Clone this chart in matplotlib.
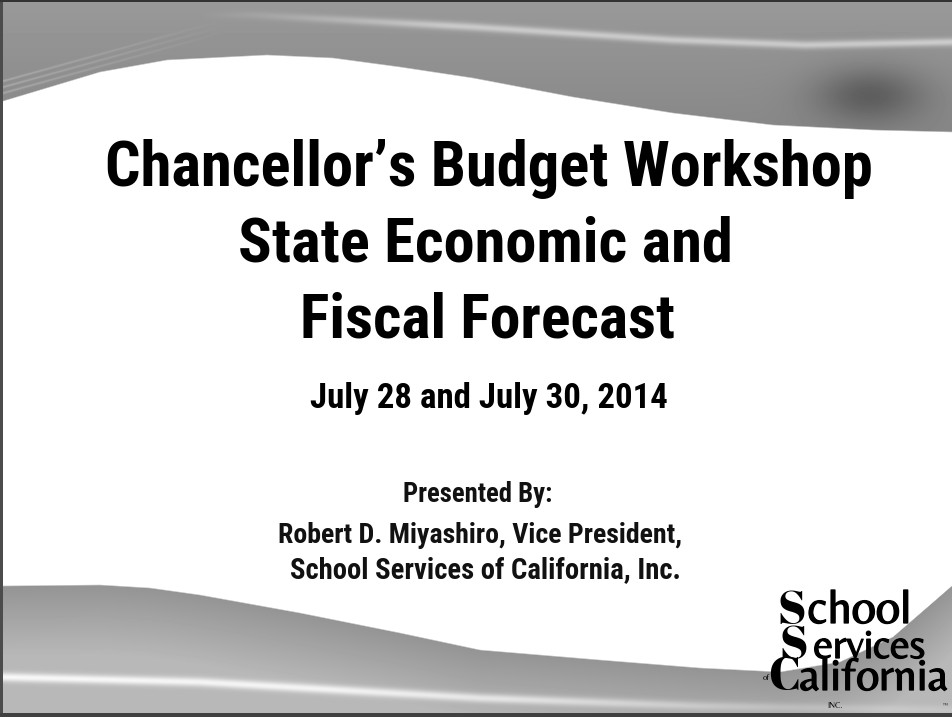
import numpy as np
import matplotlib
matplotlib.use('Agg')
import matplotlib.pyplot as plt
import matplotlib.patheffects as pe
from matplotlib import font_manager

W, H = 953, 717

# slide texts
title_lines = ['Chancellor\u2019s Budget Workshop', 'State Economic and', 'Fiscal Forecast']
date_line = 'July 28 and July 30, 2014'
presenter_lines = ['Presented By:', 'Robert D. Miyashiro, Vice President,',
                   'School Services of California, Inc.']
logo_caps = ['S', 'S', 'C']
logo_rest = ['chool', 'ervices', 'alifornia']
logo_small = ['of', 'INC.', '\u2122']

# (left, right, baseline) in pixels for each text line
title_boxes = [(105, 873, 186), (238, 732, 262), (300, 675, 338)]
date_box = (310, 668, 408)
presenter_boxes = [(403, 552, 502), (278, 682, 543), (290, 680, 578)]


def pick_family(names):
    have = {f.name for f in font_manager.fontManager.ttflist}
    for n in names:
        if n in have:
            return n
    return 'DejaVu Sans'


narrow = pick_family(['Liberation Sans Narrow', 'Roboto Condensed', 'Arimo Narrow',
                      'Fira Sans Condensed', 'Barlow Semi Condensed', 'Liberation Sans'])
logo_font = pick_family(['Belleza', 'Liberation Sans'])
swash = pick_family(['Abril Fatface', 'Liberation Serif'])


def background():
    yy, xx = np.mgrid[0:H, 0:W] + 0.5
    x = xx[0]

    # top swoosh
    top_edge = np.interp(x, [0, 50, 100, 167, 267, 333, 400, 473, 573, 673, 773, 873, 953],
                         [102, 87, 72, 60, 55, 58, 67, 78, 97, 113, 125, 130, 132])
    top_mask = np.clip((top_edge[None, :] - yy) / 1.5 + 0.5, 0, 1)
    g_top = 0.6 - 0.07 * yy / 130.0
    s_y = np.interp(x, [250, 473, 673, 806, 953], [15, 27, 40, 45, 42])
    s_amp = np.interp(x, [200, 450, 953], [0.0, 0.2, 0.22])
    g_top = g_top + s_amp[None, :] * np.exp(-((yy - s_y[None, :]) / 4.0) ** 2)
    g_top -= 0.18 * np.exp(-((xx - 870) / 55.0) ** 2 - ((yy - 95) / 28.0) ** 2)
    for k in range(3):
        ly = 82 - xx * 47 / 170.0 + k * 6
        fade = np.clip(1 - xx / 220.0, 0, 1)
        g_top += 0.1 * fade * np.exp(-((yy - ly) / 1.2) ** 2)

    # bottom swoosh
    bot_edge = np.interp(x, [0, 100, 150, 200, 300, 400, 480, 600, 700, 780, 840, 893, 930, 953],
                         [586, 585, 588, 595, 613, 633, 650, 660, 668, 672, 662, 637, 605, 585])
    bot_mask = np.clip((yy - bot_edge[None, :]) / 1.5 + 0.5, 0, 1)
    g_bot = 0.58 + 0.14 * np.clip((yy - bot_edge[None, :]) / 70.0, 0, 1)
    b_y = np.interp(x, [0, 200, 480, 700, 953], [677, 682, 698, 706, 710])
    b_amp = np.interp(x, [0, 500, 800, 953], [0.25, 0.22, 0.08, 0.05])
    g_bot = g_bot + b_amp[None, :] * np.exp(-((yy - b_y[None, :]) / 4.5) ** 2)

    img = np.ones((H, W))
    img = img * (1 - top_mask) + g_top * top_mask
    img = img * (1 - bot_mask) + g_bot * bot_mask

    # slide frame
    img[:2, :] = 0.2
    img[713:, :] = 0.25
    img[:, :3] = np.minimum(img[:, :3], 0.3)
    return np.clip(img, 0, 1)


fig = plt.figure(figsize=(W / 100, H / 100), dpi=100)
ax = fig.add_axes([0, 0, 1, 1])
ax.imshow(background(), cmap='gray', vmin=0, vmax=1, extent=(0, W, H, 0),
          interpolation='bilinear', aspect='auto')
ax.set_xlim(0, W)
ax.set_ylim(H, 0)
ax.axis('off')

renderer = fig.canvas.get_renderer()


def fit_text(s, x0, x1, y, **kw):
    t = ax.text((x0 + x1) / 2, y, s, ha='center', va='baseline', fontsize=20, **kw)
    w = t.get_window_extent(renderer).width
    t.set_fontsize(20 * (x1 - x0) / w)
    return t


for s, (x0, x1, y) in zip(title_lines, title_boxes):
    fit_text(s, x0, x1, y, family=narrow, weight='bold', color='black')

fit_text(date_line, *date_box, family=narrow, weight='bold', color='black')

for s, (x0, x1, y) in zip(presenter_lines, presenter_boxes):
    fit_text(s, x0, x1, y, family=narrow, weight='bold', color='#111111')

# logo
thick = [pe.withStroke(linewidth=0.9, foreground='black')]
cap_pos = [(792, 624), (794, 659), (784, 690)]
for s, (cx, cy) in zip(logo_caps, cap_pos):
    ax.text(cx, cy, s, ha='center', va='baseline', fontsize=34, family=swash,
            color='black')
rest_boxes = [(806, 913, 623), (812, 927, 658), (797, 950, 690)]
for s, (x0, x1, y) in zip(logo_rest, rest_boxes):
    t = fit_text(s, x0, x1, y, family=logo_font, color='black')
    t.set_fontsize(t.get_fontsize() * 0.97)
    t.set_path_effects(thick)
ax.text(766, 680, logo_small[0], ha='center', va='baseline', fontsize=6,
        family=logo_font, color='black')
ax.text(835, 708, logo_small[1], ha='center', va='baseline', fontsize=6,
        family=logo_font, color='black')
ax.text(945, 707, logo_small[2], ha='center', va='baseline', fontsize=4,
        family=logo_font, color='black')

fig.savefig('out.png', dpi=100)
